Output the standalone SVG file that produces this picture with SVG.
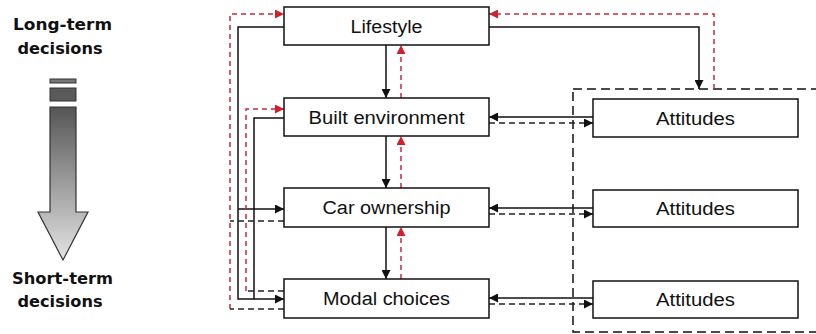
<svg xmlns="http://www.w3.org/2000/svg" width="816" height="334" viewBox="0 0 816 334">
<defs>
<style>
.box{fill:#fff;stroke:#111;stroke-width:1.5}
.lbl{font-family:"Liberation Sans",Arial,sans-serif;font-size:18px;fill:#111;text-anchor:middle}
.side{font-family:"DejaVu Sans",Verdana,sans-serif;font-weight:bold;font-size:16px;fill:#111;text-anchor:middle}
.s{fill:none;stroke:#111;stroke-width:1.5}
.d{fill:none;stroke:#222;stroke-width:1.5;stroke-dasharray:6 4}
.r{fill:none;stroke:#c8283c;stroke-width:1.5;stroke-dasharray:5 4}
</style>
<marker id="ab" viewBox="0 0 10 10" refX="10" refY="5" markerWidth="9" markerHeight="9" markerUnits="userSpaceOnUse" orient="auto"><path d="M0,0 L10,5 L0,10 Z" fill="#111"/></marker>
<marker id="ar" viewBox="0 0 10 10" refX="10" refY="5" markerWidth="9" markerHeight="9" markerUnits="userSpaceOnUse" orient="auto"><path d="M0,0 L10,5 L0,10 Z" fill="#d0202c"/></marker>
<linearGradient id="g" x1="0" y1="107" x2="0" y2="260" gradientUnits="userSpaceOnUse">
<stop offset="0" stop-color="#555"/><stop offset="1" stop-color="#e4e4e4"/>
</linearGradient>
</defs>
<g id="legend">
<text class="side" x="62.5" y="30" textLength="99" lengthAdjust="spacingAndGlyphs">Long-term</text>
<text class="side" x="60" y="54" textLength="85" lengthAdjust="spacingAndGlyphs">decisions</text>
<rect x="50" y="79" width="26" height="4" fill="#777" stroke="#333"/>
<rect x="50" y="88" width="26" height="13" fill="#5a5a5a" stroke="#333"/>
<path d="M50,107 H76 V212 H88 L63,260 L38,212 H50 Z" fill="url(#g)" stroke="#333" stroke-width="1.2"/>
<text class="side" x="62.5" y="284" textLength="101" lengthAdjust="spacingAndGlyphs">Short-term</text>
<text class="side" x="60" y="307" textLength="85" lengthAdjust="spacingAndGlyphs">decisions</text>
</g>
<g id="group-frame">
<rect x="573" y="89" width="260" height="243" fill="none" stroke="#111" stroke-width="1.5" stroke-dasharray="9 5"/>
</g>
<g id="connectors">
<path class="s" d="M386,45 V98" marker-end="url(#ab)"/>
<path class="s" d="M386,136 V188" marker-end="url(#ab)"/>
<path class="s" d="M386,227 V279" marker-end="url(#ab)"/>
<path class="r" d="M401,98 V45" marker-end="url(#ar)"/>
<path class="r" d="M401,188 V136" marker-end="url(#ar)"/>
<path class="r" d="M401,279 V227" marker-end="url(#ar)"/>
<path class="s" d="M489,27 H699 V89" marker-end="url(#ab)"/>
<path class="r" d="M714,89 V14 H489" marker-end="url(#ar)"/>
<path class="s" d="M593,117 H489" marker-end="url(#ab)"/>
<path class="d" d="M489,123 H593" marker-end="url(#ab)"/>
<path class="s" d="M593,208 H489" marker-end="url(#ab)"/>
<path class="d" d="M489,214 H593" marker-end="url(#ab)"/>
<path class="s" d="M593,298 H489" marker-end="url(#ab)"/>
<path class="d" d="M489,304 H593" marker-end="url(#ab)"/>
<path class="s" d="M284,27 H238 V299 H284" marker-end="url(#ab)"/>
<path class="s" d="M238,209 H284" marker-end="url(#ab)"/>
<path class="s" d="M284,118 H254 V299"/>
<path class="r" d="M230,309 V14 H284" marker-end="url(#ar)"/>
<path class="d" d="M284,309 H230"/>
<path class="d" d="M284,221 H230"/>
<path class="r" d="M246,291 V109 H284" marker-end="url(#ar)"/>
<path class="d" d="M284,291 H246"/>
</g>
<g id="lifestyle"><rect class="box" x="284" y="7" width="205" height="38"/><text class="lbl" x="386.5" y="32.5" textLength="72" lengthAdjust="spacingAndGlyphs">Lifestyle</text></g>
<g id="built-environment"><rect class="box" x="284" y="98" width="205" height="38"/><text class="lbl" x="386.5" y="123.5" textLength="156" lengthAdjust="spacingAndGlyphs">Built environment</text></g>
<g id="car-ownership"><rect class="box" x="284" y="188" width="205" height="39"/><text class="lbl" x="386.5" y="214" textLength="128" lengthAdjust="spacingAndGlyphs">Car ownership</text></g>
<g id="modal-choices"><rect class="box" x="284" y="279" width="205" height="39"/><text class="lbl" x="386.5" y="305" textLength="127" lengthAdjust="spacingAndGlyphs">Modal choices</text></g>
<g id="attitudes-1"><rect class="box" x="593" y="99" width="205" height="38"/><text class="lbl" x="695.5" y="124.5" textLength="79" lengthAdjust="spacingAndGlyphs">Attitudes</text></g>
<g id="attitudes-2"><rect class="box" x="593" y="190" width="205" height="37"/><text class="lbl" x="695.5" y="215" textLength="79" lengthAdjust="spacingAndGlyphs">Attitudes</text></g>
<g id="attitudes-3"><rect class="box" x="593" y="281" width="205" height="37"/><text class="lbl" x="695.5" y="306" textLength="79" lengthAdjust="spacingAndGlyphs">Attitudes</text></g>
</svg>
